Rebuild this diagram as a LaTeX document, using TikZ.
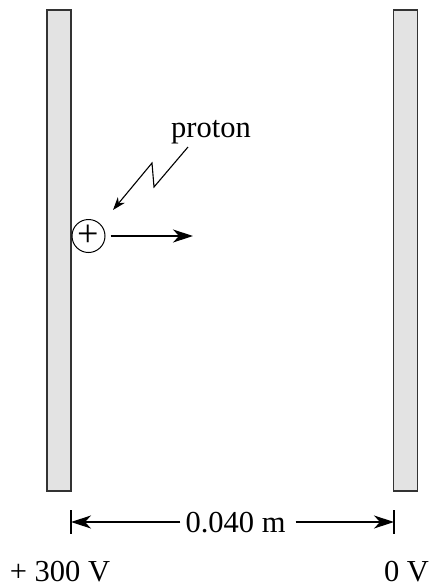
\documentclass[tikz,border=0pt]{standalone}
\usepackage{fontspec}
\setmainfont{Liberation Serif}
\usetikzlibrary{arrows.meta}

\begin{document}
\begin{tikzpicture}[x=1pt,y=-1pt,inner sep=0pt,font=\fontsize{30.5}{34}\selectfont]
    \tikzstyle{plate}=[rectangle,draw=black!80,fill=black!11,line width=1.6pt,minimum width=24pt,minimum height=481pt]
    \tikzstyle{arr}=[-{Stealth[length=20pt,width=13pt,inset=6pt]},line width=1.1pt]
    \tikzstyle{lbl}=[anchor=base]
    \useasboundingbox (0,0) rectangle (431,587);

    \foreach \s/\x in {l/59,r/405.5} {
        \node[plate] (p\s) at (\x, 250.5) {};
    };

    % proton and its velocity
    \node[circle,draw,line width=1pt,minimum size=33pt,font=\fontsize{38}{40}\selectfont] (pr) at (88.5,236) {+};
    \coordinate (v) at (193,236);
    \draw[arr,shorten <=5pt] (pr) -- (v);

    \node[lbl] (name) at (211,137) {proton};
    \coordinate (z0) at (188,147);
    \coordinate (tip) at (113,210);
    \draw[-{Stealth[length=13pt,width=9pt,inset=4pt]},line width=1.1pt]
        (z0) -- (154,187) -- (152,163) -- (tip);

    % gap between the plates
    \coordinate (tl) at (71,522);
    \coordinate (tr) at (394,522);
    \draw[line width=1.1pt] (71,510) -- (71,534) (394,510) -- (394,534);
    \node[lbl] (d) at (235.5,532) {0.040 m};
    \draw[arr,shorten <=5pt] (d.west|-tl) -- (tl);
    \draw[arr,shorten <=10pt] (d.east|-tr) -- (tr);

    \node[lbl] (vl) at (60,581) {+ 300 V};
    \node[lbl] (vr) at (406.5,581) {0 V};
\end{tikzpicture}
\end{document}
